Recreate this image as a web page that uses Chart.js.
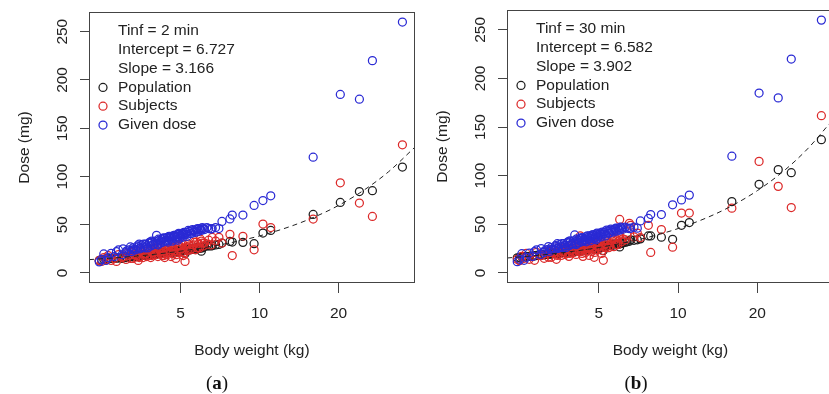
<!DOCTYPE html>
<html>
<head>
<meta charset="utf-8">
<title>Dose vs body weight</title>
<script src="https://cdn.jsdelivr.net/npm/chart.js@4.4.1/dist/chart.umd.min.js"></script>
<style>
  html, body { margin: 0; padding: 0; background: #fff; overflow: hidden; }
  body { width: 829px; height: 394px; position: relative; }
  canvas { position: absolute; top: 0; }
  #panel-a { left: 0; }
  #panel-b { left: 420px; }
  .caption {
    position: absolute; top: 372px; line-height: 22px;
    font-family: 'Liberation Serif', 'DejaVu Serif', serif; font-size: 19px; color: #111;
    transform: translateX(-50%);
  }
</style>
</head>
<body>
<canvas id="panel-a" width="420" height="394"></canvas>
<canvas id="panel-b" width="419" height="394"></canvas>
<div class="caption" style="left:217px">(<b>a</b>)</div>
<div class="caption" style="left:636px">(<b>b</b>)</div>

<script>
/* ============================================================
   DOSE vs BODY WEIGHT — two panels (Tinf = 2 min / 30 min)
   ============================================================ */

// ─── DATA ───
const weightKg = [
    2.45, 2.5, 2.55, 2.6, 2.65, 2.72, 2.8, 2.85, 2.9, 3.0,
    3.1, 3.18, 3.25, 3.3, 3.38, 3.45, 3.5, 3.55, 3.6, 3.68,
    3.75, 3.8, 3.85, 3.9, 3.95, 4.0, 4.05, 4.1, 4.15, 4.2,
    4.25, 4.3, 4.35, 4.4, 4.45, 4.5, 4.55, 4.6, 4.65, 4.7,
    4.75, 4.8, 4.85, 4.9, 4.95, 5.0, 5.05, 5.1, 5.2, 5.25,
    5.3, 5.4, 5.5, 5.6, 5.7, 5.75, 5.85, 5.9, 6.0, 6.1,
    6.17, 6.3, 6.4, 6.53, 6.6, 6.8, 7.0, 7.19, 7.71, 7.87,
    8.64, 9.53, 10.3, 11.03, 16.0, 20.3, 24.0, 26.9, 35.0,
    3.02, 3.12, 3.22, 3.32, 3.42, 3.52, 3.62, 3.72, 3.82, 3.92,
    4.02, 4.12, 4.22, 4.32, 4.42, 4.52, 4.62, 4.72, 4.82, 4.92,
    5.02, 5.15, 5.28, 5.35, 5.45, 5.55, 5.65, 5.8, 5.95, 6.05,
    3.28, 3.48, 3.66, 3.88, 4.08, 4.28, 4.48, 4.68, 4.88, 5.12
];

// blue: same in both panels
const givenDose = [
    11.5, 14, 19.7, 13, 16, 20.3, 17, 22, 23.8, 19,
    21, 24, 22, 26, 24, 27, 25, 29, 27, 30,
    26, 31, 28, 32, 30, 33, 39, 29, 34, 31,
    35, 32, 36, 33, 37, 34, 36, 38, 33, 37,
    39, 35, 38, 40, 36, 39, 41, 37, 40, 42,
    38, 43, 41, 44, 42, 45, 43, 46, 44, 46,
    45, 47, 46, 45.5, 46, 47, 46, 53.4, 56, 60,
    60, 70, 75, 80, 120, 185, 180, 220, 260,
    25, 23, 27, 24, 28, 26, 30, 28, 32, 29,
    31, 35, 33, 36, 34, 38, 35, 39, 37, 41,
    38, 42, 40, 44, 41, 45, 43, 46, 45, 47,
    24, 30, 26, 33, 30, 36, 32, 38, 34, 40
];

// panel (a), Tinf = 2 min
const popDoseA = [
    13, 13.5, 14, 14, 14.5, 15, 15, 15.5, 15.5, 15,
    16, 16.5, 17, 17, 17.5, 17.5, 18, 18, 18.5, 18.5,
    19, 19, 19, 19.5, 19.5, 20, 20, 20, 20.5, 20.5,
    20.5, 21, 21, 21, 21.5, 21.5, 22, 22, 22, 22.5,
    22.5, 22.5, 23, 23, 23, 23.5, 23.5, 24, 20, 24,
    24.5, 25, 25, 25.5, 26, 26, 26.5, 26.5, 22.5, 27,
    27.5, 28, 28, 28, 28.2, 29, 29.5, 31, 32.7, 32,
    31.7, 30.3, 41.4, 44, 60.6, 73.1, 84.4, 85.2, 109.7,
    16, 16.5, 17, 17, 17.5, 18, 18.5, 19, 19, 19.5,
    19.5, 20, 20.5, 20.5, 21, 21.5, 21.5, 22, 22, 22.5,
    23, 23, 23.5, 24, 24, 24.5, 24.5, 25, 25.5, 26,
    17, 17.5, 18.5, 19, 20, 20.5, 21, 21.5, 22, 23.5
];
const subjDoseA = [
    13, 12, 16, 14, 18, 13, 15, 12, 19, 16,
    14, 18, 21, 15, 19, 13, 17, 22, 16, 20,
    18, 23, 16, 21, 19, 24, 22, 17, 25, 20,
    18, 23, 16, 21, 19, 24, 22, 17, 26, 20,
    23, 15, 25, 21, 28, 27, 22, 30, 12, 26,
    23, 28, 25, 29, 24, 32, 30, 26, 33, 28,
    31, 30, 34, 29, 36.8, 33, 37, 31, 40, 18,
    38, 24, 50.7, 47, 55.9, 93.4, 72.4, 58.6, 132.8,
    17, 20, 15, 22, 18, 24, 20, 17, 23, 26,
    19, 22, 26, 18, 24, 21, 27, 23, 19, 29,
    25, 21, 27, 30, 24, 28, 32, 26, 35, 31,
    19, 16, 23, 18, 27, 20, 29, 25, 28, 18
];

// panel (b), Tinf = 30 min
const popDoseB = [
    15.5, 16, 16.5, 16.5, 17, 17, 17.5, 17.5, 18, 18,
    18.5, 19, 19.5, 19.5, 20, 20, 20.5, 20.5, 21, 21,
    21.5, 21.5, 22, 22, 22, 22.5, 22.5, 23, 23, 23.5,
    23.5, 24, 24, 24, 24.5, 24.5, 25, 25, 25.5, 25.5,
    25.5, 26, 26, 26, 26.5, 26.5, 26.5, 27, 23, 27.5,
    27.5, 28, 28.5, 29, 29, 29.5, 30, 30, 26.7, 31,
    31, 31.5, 32, 32.5, 34, 33.5, 34, 35, 38, 38,
    36.7, 34.6, 49, 51.8, 73.3, 91.1, 106.2, 103.1, 137,
    18.5, 19, 19.5, 19.5, 20, 20.5, 21, 21, 21.5, 22,
    22, 22.5, 23, 23.5, 23.5, 24, 24.5, 25, 25, 25.5,
    26, 26.5, 27, 27.5, 28, 28, 28.5, 29, 29.5, 30,
    19.5, 20, 21, 21.5, 22.5, 23.5, 24, 25, 25.5, 26.5
];
const subjDoseB = [
    14, 12.5, 17, 15, 20, 14, 17, 13, 21, 18,
    15, 20, 23, 16, 21, 14, 19, 24, 18, 22,
    20, 26, 17, 23, 21, 27, 25, 19, 28, 22,
    38, 26, 17, 24, 21, 27, 25, 18, 30, 22,
    26, 16, 28, 24, 31, 30, 25, 33, 13, 29,
    26, 31, 28, 33, 27, 36, 34, 29, 55, 32,
    35, 34, 39, 51, 49, 37, 41, 36.4, 49, 21,
    44.6, 26.4, 61.6, 61.6, 66.5, 114.7, 89, 67.2, 161.7,
    18, 22, 16, 24, 20, 26, 22, 19, 25, 28,
    21, 24, 28, 20, 26, 23, 29, 25, 21, 32,
    27, 23, 30, 33, 26, 31, 35, 29, 38, 34,
    21, 18, 25, 20, 29, 22, 31, 27, 30, 20
];

// dashed population curve, read along the plot width
const fitWeightKg = [2.24, 3, 4, 5, 6.5, 8, 10, 13, 16, 20, 25, 31, 39];
const fitDoseA = [13.8, 16.2, 19.4, 22.6, 27.3, 32.1, 38.4, 47.9, 57.4, 70.0, 85.9, 104.9, 130.2];
const fitDoseB = [15.3, 18.3, 22.2, 26.1, 32.0, 37.8, 45.6, 57.3, 69.0, 84.6, 104.1, 127.5, 158.8];

const xTicks = [5, 10, 20];
const yTicks = [0, 50, 100, 150, 200, 250];
const seriesNames = ['Population', 'Subjects', 'Given dose'];
const notesA = ['Tinf = 2 min', 'Intercept = 6.727', 'Slope = 3.166'];
const notesB = ['Tinf = 30 min', 'Intercept = 6.582', 'Slope = 3.902'];

const INK = '#222';
const COLORS = { pop: '#1e1e1e', subj: '#dc2a2a', given: '#2a2ad4' };
const FONT = "'Liberation Sans', Arial, sans-serif";
const FS = 15.5;
const MARK_R = 4;
const MARK_W = 1.25;

const toPoints = (xs, ys) => xs.map((x, i) => ({ x, y: ys[i] }));

// ─── BOX, ROTATED Y LABELS, INSET LEGEND ───
const rFrame = {
    id: 'rFrame',
    afterDraw(chart, args, opts) {
        const { ctx, chartArea: a } = chart;
        const y = chart.scales.y;
        ctx.save();
        ctx.strokeStyle = '#444';
        ctx.lineWidth = 1;
        ctx.strokeRect(Math.round(a.left) + 0.5, Math.round(a.top) + 0.5,
            Math.round(a.right - a.left) - 1, Math.round(a.bottom - a.top) - 1);

        ctx.fillStyle = INK;
        ctx.font = `${FS}px ${FONT}`;
        ctx.textAlign = 'center';
        ctx.textBaseline = 'middle';
        y.ticks.forEach(t => {
            ctx.save();
            ctx.translate(a.left - 26, y.getPixelForValue(t.value));
            ctx.rotate(-Math.PI / 2);
            ctx.fillText(String(t.value), 0, 0);
            ctx.restore();
        });

        const step = 18.8;
        let ly = a.top + 19;
        ctx.textAlign = 'left';
        opts.notes.forEach(n => { ctx.fillText(n, a.left + 29, ly); ly += step; });
        opts.items.forEach(it => {
            ctx.fillText(it.label, a.left + 29, ly);
            ctx.beginPath();
            ctx.strokeStyle = it.color;
            ctx.lineWidth = MARK_W;
            ctx.arc(a.left + 14, ly, MARK_R, 0, Math.PI * 2);
            ctx.stroke();
            ly += step;
        });
        ctx.restore();
    }
};

const DosePanels = {
    init() {
        Chart.defaults.font.family = FONT;
        Chart.defaults.font.size = FS;
        Chart.defaults.color = INK;

        this.renderPanel('panel-a', {
            pop: popDoseA, subj: subjDoseA, fit: fitDoseA, notes: notesA,
            top: 12, yWidth: 89, yTitlePad: 15.7
        });
        this.renderPanel('panel-b', {
            pop: popDoseB, subj: subjDoseB, fit: fitDoseB, notes: notesB,
            top: 10, yWidth: 87, yTitlePad: 13.7
        });
    },

    scatterSet(label, ys, color) {
        return {
            type: 'scatter',
            label,
            data: toPoints(weightKg, ys),
            pointStyle: 'circle',
            pointRadius: MARK_R,
            pointBorderWidth: MARK_W,
            pointBackgroundColor: 'rgba(0,0,0,0)',
            pointBorderColor: color,
            borderColor: color,
            backgroundColor: 'rgba(0,0,0,0)',
            showLine: false
        };
    },

    renderPanel(id, p) {
        const canvas = document.getElementById(id);
        const canvasH = canvas.height;

        // first dataset is painted last (on top)
        new Chart(canvas, {
            type: 'scatter',
            data: {
                datasets: [
                    {
                        type: 'line',
                        label: 'fit',
                        data: toPoints(fitWeightKg, p.fit),
                        showLine: true,
                        borderColor: INK,
                        borderWidth: 1,
                        borderDash: [5, 4],
                        pointRadius: 0,
                        fill: false,
                        cubicInterpolationMode: 'monotone'
                    },
                    this.scatterSet(seriesNames[2], givenDose, COLORS.given),
                    this.scatterSet(seriesNames[1], p.subj, COLORS.subj),
                    this.scatterSet(seriesNames[0], p.pop, COLORS.pop)
                ]
            },
            options: {
                responsive: false,
                animation: false,
                events: [],
                layout: { padding: { left: 0, right: 3, top: p.top, bottom: 0 } },
                plugins: {
                    legend: { display: false },
                    tooltip: { enabled: false },
                    rFrame: {
                        notes: p.notes,
                        items: [
                            { label: seriesNames[0], color: COLORS.pop },
                            { label: seriesNames[1], color: COLORS.subj },
                            { label: seriesNames[2], color: COLORS.given }
                        ]
                    }
                },
                scales: {
                    x: {
                        type: 'logarithmic',
                        bounds: 'data',
                        min: 2.24, max: 39,
                        afterBuildTicks: s => { s.ticks = xTicks.map(v => ({ value: v })); },
                        afterFit: s => { s.height = canvasH - 283; },
                        grid: { drawOnChartArea: false, drawTicks: true, tickLength: 10, color: '#444' },
                        border: { display: false },
                        ticks: { color: INK, padding: 11, maxRotation: 0, autoSkip: false, callback: v => String(v) },
                        title: { display: true, text: 'Body weight (kg)', color: INK, padding: { top: 0, bottom: 33.7 } }
                    },
                    y: {
                        type: 'linear',
                        bounds: 'data',
                        min: -10.4, max: 270.4,
                        afterBuildTicks: s => { s.ticks = yTicks.map(v => ({ value: v })); },
                        afterFit: s => { s.width = p.yWidth; },
                        grid: { drawOnChartArea: false, drawTicks: true, tickLength: 9, color: '#444' },
                        border: { display: false },
                        ticks: { display: false },
                        title: { display: true, text: 'Dose (mg)', color: INK, padding: { top: p.yTitlePad, bottom: 0 } }
                    }
                }
            },
            plugins: [rFrame]
        });
    }
};

document.addEventListener('DOMContentLoaded', () => {
    DosePanels.init();
});
</script>
</body>
</html>
